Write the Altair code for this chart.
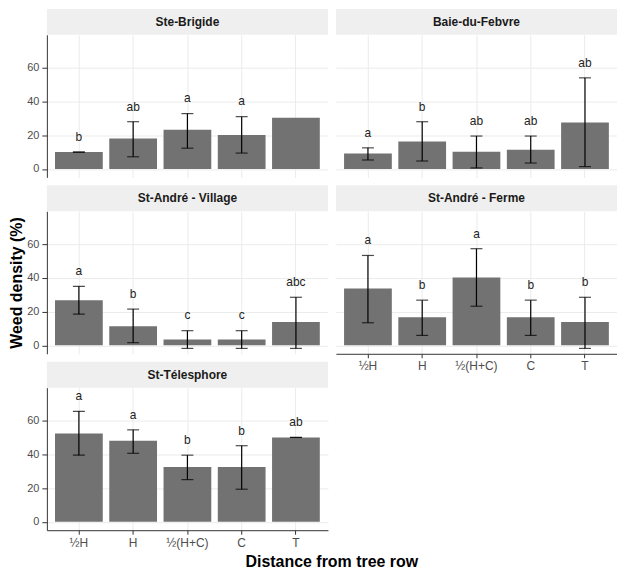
import altair as alt
import pandas as pd

FONT = "Liberation Sans"

sites = ["Ste-Brigide", "Baie-du-Febvre", "St-André - Village", "St-André - Ferme", "St-Télesphore"]
positions = ["½H", "H", "½(H+C)", "C", "T"]

# mean weed density (%) per site, in order of positions
mean_sb = [10.0, 18.0, 23.3, 20.1, 30.3]
mean_bf = [9.2, 16.2, 10.2, 11.3, 27.6]
mean_sav = [26.8, 11.4, 3.5, 3.5, 13.8]
mean_saf = [33.7, 16.7, 40.2, 16.7, 13.8]
mean_st = [52.4, 48.1, 32.4, 32.4, 50.0]

# error bar limits
low_sb = [10.0, 7.2, 12.3, 9.4, None]
up_sb = [10.0, 28.0, 32.8, 31.0, None]
low_bf = [5.3, 4.7, 0.6, 3.5, 1.4]
up_bf = [12.5, 28.0, 19.5, 19.5, 54.0]
low_sav = [18.5, 1.6, -1.8, -1.8, -1.8]
up_sav = [35.0, 21.5, 8.7, 8.7, 28.5]
low_saf = [13.4, 5.9, 23.2, 5.9, -1.8]
up_saf = [53.3, 26.8, 57.3, 26.8, 28.5]
low_st = [39.5, 40.6, 25.0, 19.3, 50.0]
up_st = [65.5, 54.5, 39.5, 45.1, 50.0]

# significance letters
let_sb = ["b", "ab", "a", "a", ""]
let_bf = ["a", "b", "ab", "ab", "ab"]
let_sav = ["a", "b", "c", "c", "abc"]
let_saf = ["a", "b", "a", "b", "b"]
let_st = ["a", "a", "b", "b", "ab"]

means = [mean_sb, mean_bf, mean_sav, mean_saf, mean_st]
lows = [low_sb, low_bf, low_sav, low_saf, low_st]
ups = [up_sb, up_bf, up_sav, up_saf, up_st]
lets = [let_sb, let_bf, let_sav, let_saf, let_st]

rows = []
for i, s in enumerate(sites):
    for j, p in enumerate(positions):
        rows.append(dict(site=s, pos=p, mean=means[i][j], lower=lows[i][j],
                         upper=ups[i][j], letter=lets[i][j]))
df = pd.DataFrame(rows)

W = 282
H = 143
STRIP = 26


def panel(idx, show_y, show_x, y_title=None):
    site = sites[idx]
    d = df[df.site == site]
    xaxis = alt.Axis(title=None, labels=show_x, ticks=show_x, domain=show_x, grid=True,
                     labelAngle=0, tickSize=4, labelPadding=3, labelFontSize=12)
    xenc = alt.X("pos:N", sort=positions,
                 scale=alt.Scale(paddingInner=0.12, paddingOuter=0.15), axis=xaxis)
    yscale = alt.Scale(domain=[-5, 79.5], nice=False, zero=False)
    yaxis = alt.Axis(title=y_title, values=[0, 20, 40, 60], labels=show_y, ticks=show_y,
                     domain=show_y, grid=True, tickSize=5, labelPadding=3, labelFontSize=11,
                     titleFontSize=16, titleFontWeight="bold", titleColor="black",
                     titlePadding=2)

    strip = alt.Chart(pd.DataFrame({"site": [site]})).mark_rect(color="#efefef").encode(
        x=alt.value(0), x2=alt.value(W), y=alt.value(-STRIP), y2=alt.value(0))
    strip_txt = alt.Chart(pd.DataFrame({"site": [site]})).mark_text(
        font=FONT, fontSize=12, fontWeight="bold", color="#1a1a1a", baseline="middle"
    ).encode(x=alt.value(W / 2), y=alt.value(-STRIP / 2), text="site:N")

    bars = alt.Chart(d).mark_bar(color="#727272").encode(
        x=xenc, y=alt.Y("mean:Q", scale=yscale, axis=yaxis), y2=alt.datum(0))
    eb = alt.Chart(d).transform_filter("isValid(datum.lower)")
    rule = eb.mark_rule(color="black", strokeWidth=1.2).encode(
        x=xenc, y=alt.Y("lower:Q", scale=yscale, axis=yaxis), y2="upper:Q")
    cap_hi = eb.mark_tick(color="black", size=12, thickness=1.2).encode(
        x=xenc, y=alt.Y("upper:Q", scale=yscale, axis=yaxis))
    cap_lo = eb.mark_tick(color="black", size=12, thickness=1.2).encode(
        x=xenc, y=alt.Y("lower:Q", scale=yscale, axis=yaxis))
    txt = eb.transform_filter("datum.letter != ''").transform_calculate(
        ly="datum.upper + 9").mark_text(
        font=FONT, fontSize=12, color="#222222", baseline="middle").encode(
        x=xenc, y=alt.Y("ly:Q", scale=yscale, axis=yaxis), text="letter:N")

    return alt.layer(strip, strip_txt, bars, rule, cap_hi, cap_lo, txt).properties(
        width=W, height=H)


p1 = panel(0, True, False)
p2 = panel(1, False, False)
p3 = panel(2, True, False, "Weed density (%)")
p4 = panel(3, False, True)
p5 = panel(4, True, True)

col1 = alt.vconcat(p1, p3, p5, spacing=8)
col2 = alt.vconcat(p2, p4, spacing=8)

chart = alt.hconcat(col1, col2, spacing=8).properties(
    title=alt.TitleParams("Distance from tree row", orient="bottom", anchor="middle",
                          fontSize=16, fontWeight="bold", color="black", font=FONT,
                          offset=6, dx=19),
    padding={"left": 0, "top": 0, "right": 0, "bottom": 0},
).configure_view(stroke=None).configure_axis(
    labelFont=FONT, labelColor="#4d4d4d", titleFont=FONT,
    tickColor="#333333", domainColor="#333333", gridColor="#ebebeb", gridWidth=1,
)

chart.save("out.html", embed_options={"renderer": "svg", "actions": False})
